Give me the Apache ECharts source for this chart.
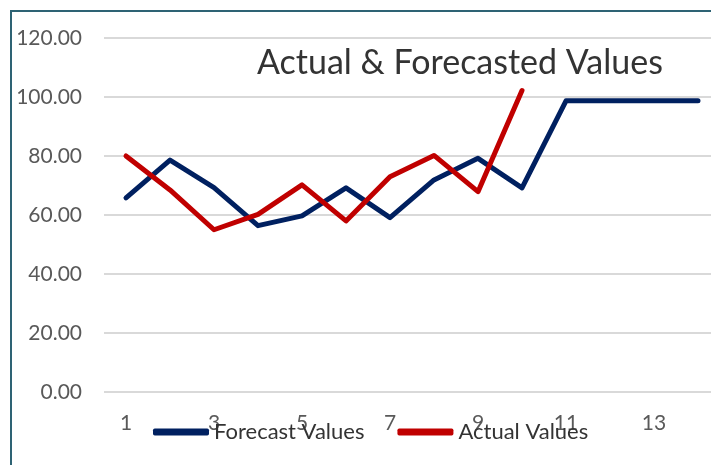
<!DOCTYPE html>
<html>
<head>
<meta charset="utf-8">
<script src="https://cdn.jsdelivr.net/npm/echarts@6/dist/echarts.min.js"></script>
<style>
html,body{margin:0;padding:0;background:#fff;}
#c{width:711px;height:465px;}
</style>
</head>
<body>
<div id="c"></div>
<script>
const categories = ['1','2','3','4','5','6','7','8','9','10','11','12','13','14'];
const forecastValues = [65.8, 78.6, 69.3, 56.4, 59.7, 69.2, 59.1, 71.9, 79.2, 69.2, 98.7, 98.7, 98.7, 98.7];
const actualValues = [80.0, 68.5, 55.0, 60.2, 70.2, 58.0, 73.0, 80.2, 67.9, 102.2];
const yMin = 0, yMax = 120, yStep = 20;

const chart = echarts.init(document.getElementById('c'), null, {renderer: 'canvas'});
const font = 'Lato, "Open Sans", sans-serif';
chart.setOption({
  animation: false,
  backgroundColor: '#ffffff',
  graphic: [{
    type: 'rect', z: -10, silent: true,
    shape: {x: 11, y: 11, width: 800, height: 500},
    style: {fill: 'none', stroke: '#2e6374', lineWidth: 2}
  }],
  title: {
    text: 'Actual & Forecasted Values',
    left: 252, top: 41,
    textStyle: {fontFamily: font, fontSize: 34, fontWeight: 'normal', color: '#333333'}
  },
  grid: {left: 104, width: 616, top: 38, bottom: 73, containLabel: false, outerBoundsMode: 'none'},
  legend: {
    left: 153, top: 421, padding: 0,
    itemWidth: 56, itemHeight: 7, itemGap: 33,
    icon: 'roundRect',
    textStyle: {fontFamily: font, fontSize: 22, color: '#333333'},
    data: ['Forecast Values', 'Actual Values']
  },
  xAxis: {
    type: 'category',
    data: categories,
    boundaryGap: true,
    axisLine: {show: false},
    axisTick: {show: false},
    axisLabel: {interval: 1, margin: 21, fontFamily: font, fontSize: 21, color: '#595959'}
  },
  yAxis: {
    type: 'value',
    min: yMin, max: yMax, interval: yStep,
    axisLine: {show: false},
    axisTick: {show: false},
    axisLabel: {margin: 22, fontFamily: font, fontSize: 21, color: '#595959',
      formatter: v => v.toFixed(2)},
    splitLine: {show: true, lineStyle: {color: '#d9d9d9', width: 2}}
  },
  series: [
    {
      name: 'Forecast Values', type: 'line', data: forecastValues,
      symbol: 'none', smooth: false,
      lineStyle: {color: '#002060', width: 5, cap: 'round', join: 'round'},
      itemStyle: {color: '#002060'}
    },
    {
      name: 'Actual Values', type: 'line', data: actualValues,
      symbol: 'none', smooth: false,
      lineStyle: {color: '#c00000', width: 5, cap: 'round', join: 'round'},
      itemStyle: {color: '#c00000'}
    }
  ]
});
</script>
</body>
</html>
